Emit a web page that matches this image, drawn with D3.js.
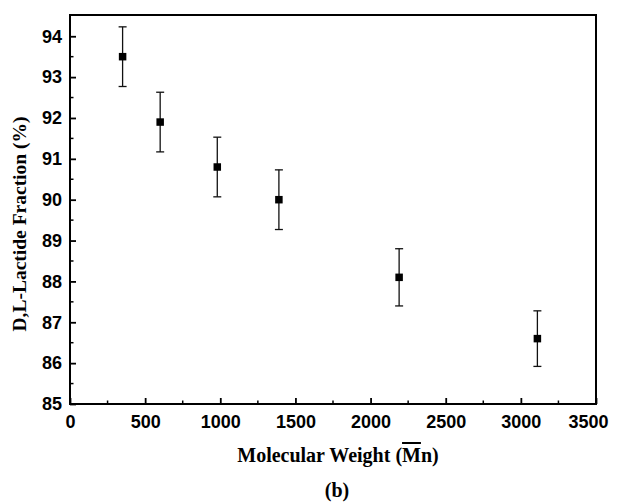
<!DOCTYPE html>
<html>
<head>
<meta charset="utf-8">
<script src="https://cdn.jsdelivr.net/npm/d3@7"></script>
<style>
    body { margin: 0; background: #fff; }
</style>
</head>
<body>
<div id="chart"></div>
<script>
// data
let molWeight = [350, 600, 980, 1390, 2190, 3110];
let lactideFrac = [93.5, 91.9, 90.8, 90.0, 88.1, 86.6];
let fracErr = [0.73, 0.73, 0.73, 0.73, 0.70, 0.68];
let xTicks = [0, 500, 1000, 1500, 2000, 2500, 3000, 3500];
let yTicks = [85, 86, 87, 88, 89, 90, 91, 92, 93, 94];

let width = 620, height = 502;
let margin = {top: 15, right: 24, bottom: 98, left: 70};
let w = width - margin.left - margin.right;
let h = height - margin.top - margin.bottom;

let tickFont = "'Liberation Sans', Arial, sans-serif";
let titleFont = "'Liberation Serif', 'Times New Roman', serif";

let svg = d3.select("#chart").append("svg")
    .attr("width", width)
    .attr("height", height);

let g = svg.append("g")
    .attr("transform", `translate(${margin.left}, ${margin.top})`);

let x = d3.scaleLinear().domain([0, 3500]).range([0, w]);
let y = d3.scaleLinear().domain([85, 94.52]).range([h, 0]);

// minor ticks first
let xMinor = d3.range(250, 3500, 500);
let yMinor = d3.range(85.5, 94.5, 1);

g.selectAll(".x-minor").data(xMinor).enter().append("line")
    .attr("x1", d => x(d)).attr("x2", d => x(d))
    .attr("y1", h).attr("y2", h - 3.5)
    .attr("stroke", "#000").attr("stroke-width", 1.5);

g.selectAll(".y-minor").data(yMinor).enter().append("line")
    .attr("x1", 0).attr("x2", 3.5)
    .attr("y1", d => y(d)).attr("y2", d => y(d))
    .attr("stroke", "#000").attr("stroke-width", 1.5);

// bottom axis, ticks pointing inward
let xAxis = d3.axisBottom(x).tickValues(xTicks).tickSize(-6).tickPadding(11).tickFormat(d3.format("d"));
let xg = g.append("g").attr("transform", `translate(0, ${h})`).call(xAxis)
    .attr("font-size", 18).attr("font-family", tickFont).attr("font-weight", "bold");
xg.select(".domain").remove();
xg.selectAll(".tick line").attr("stroke-width", 1.8);
xg.selectAll(".tick text").attr("fill", "#000");
// last label is pulled in so it stays inside the figure
xg.selectAll(".tick text").filter(d => d === 3500)
    .attr("text-anchor", "end").attr("x", 12);

let yAxis = d3.axisLeft(y).tickValues(yTicks).tickSize(-6).tickPadding(8);
let yg = g.append("g").call(yAxis)
    .attr("font-size", 18).attr("font-family", tickFont).attr("font-weight", "bold");
yg.select(".domain").remove();
yg.selectAll(".tick line").attr("stroke-width", 1.8);
yg.selectAll(".tick text").attr("fill", "#000");

// frame
g.append("rect")
    .attr("x", 0).attr("y", 0)
    .attr("width", w).attr("height", h)
    .attr("fill", "none")
    .attr("stroke", "#000")
    .attr("stroke-width", 2);

// error bars
let points = molWeight.map((d, i) => ({mw: d, frac: lactideFrac[i], err: fracErr[i]}));

let bars = g.selectAll(".err").data(points).enter().append("g").attr("class", "err");
bars.append("line")
    .attr("x1", d => x(d.mw)).attr("x2", d => x(d.mw))
    .attr("y1", d => y(d.frac + d.err)).attr("y2", d => y(d.frac - d.err))
    .attr("stroke", "#111").attr("stroke-width", 1.3);
bars.append("line")
    .attr("x1", d => x(d.mw) - 4).attr("x2", d => x(d.mw) + 4)
    .attr("y1", d => y(d.frac + d.err)).attr("y2", d => y(d.frac + d.err))
    .attr("stroke", "#111").attr("stroke-width", 1.3);
bars.append("line")
    .attr("x1", d => x(d.mw) - 4).attr("x2", d => x(d.mw) + 4)
    .attr("y1", d => y(d.frac - d.err)).attr("y2", d => y(d.frac - d.err))
    .attr("stroke", "#111").attr("stroke-width", 1.3);

// square markers
g.selectAll(".pt").data(points).enter().append("rect")
    .attr("class", "pt")
    .attr("x", d => x(d.mw) - 3.75)
    .attr("y", d => y(d.frac) - 3.75)
    .attr("width", 7.5).attr("height", 7.5)
    .attr("fill", "#000");

// axis titles
let xt = svg.append("text")
    .attr("font-family", titleFont).attr("font-weight", "bold").attr("font-size", 20)
    .attr("x", 338)
    .attr("y", 462)
    .attr("text-anchor", "middle");
xt.append("tspan").text("Molecular Weight (");
xt.append("tspan").attr("text-decoration", "overline").text("M");
xt.append("tspan").text("n)");

svg.append("text")
    .attr("font-family", titleFont).attr("font-weight", "bold").attr("font-size", 19.5)
    .attr("transform", "translate(26, 224) rotate(-90)")
    .attr("text-anchor", "middle")
    .text("D,L-Lactide Fraction (%)");

svg.append("text")
    .attr("font-family", titleFont).attr("font-weight", "bold").attr("font-size", 20)
    .attr("x", 337)
    .attr("y", 497)
    .attr("text-anchor", "middle")
    .text("(b)");
</script>
</body>
</html>
